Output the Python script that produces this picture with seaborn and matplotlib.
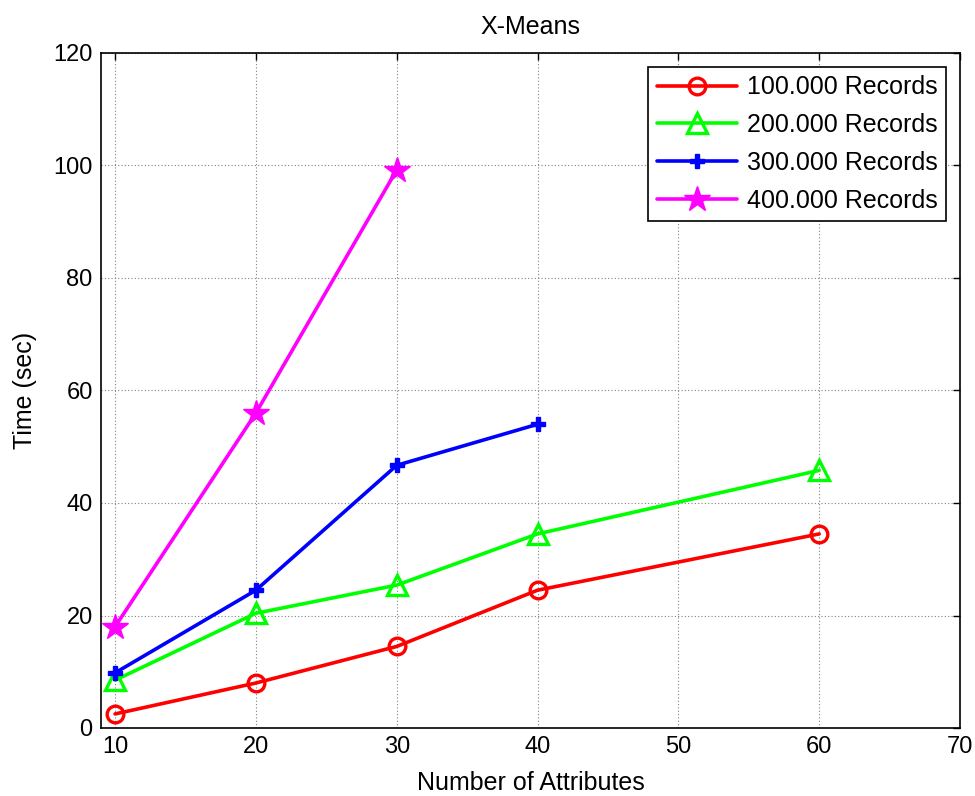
import matplotlib
matplotlib.use("Agg")
import matplotlib.pyplot as plt
import seaborn as sns
import pandas as pd

# ---- data ----
attrs_100k = [10, 20, 30, 40, 60]
time_100k = [2.5, 8.0, 14.5, 24.5, 34.5]
attrs_200k = [10, 20, 30, 40, 60]
time_200k = [8.5, 20.4, 25.4, 34.5, 45.8]
attrs_300k = [10, 20, 30, 40]
time_300k = [9.8, 24.5, 46.7, 54.0]
attrs_400k = [10, 20, 30]
time_400k = [18.0, 56.0, 99.2]

series_labels = ["100.000 Records", "200.000 Records", "300.000 Records", "400.000 Records"]
x_ticks = [10, 20, 30, 40, 50, 60, 70]
y_ticks = [0, 20, 40, 60, 80, 100, 120]

sns.set_theme(style="white")
plt.rcParams['font.family'] = ['Liberation Sans', 'DejaVu Sans']
plt.rcParams['text.color'] = 'black'
plt.rcParams['axes.labelcolor'] = 'black'
plt.rcParams['xtick.color'] = 'black'
plt.rcParams['ytick.color'] = 'black'

fig = plt.figure(figsize=(9.75, 7.96), dpi=100)
ax = fig.add_axes([101/975, 1-728/796, (960-101)/975, (728-53)/796])

styles = [
    dict(color="#ff0000", marker="o", mfc="none", mec="#ff0000", ms=12, mew=2.4),
    dict(color="#00ff00", marker="^", mfc="none", mec="#00ff00", ms=14, mew=2.4),
    dict(color="#0000ff", marker="P", mfc="#0000ff", mec="#0000ff", ms=10, mew=1),
    dict(color="#ff00ff", marker="*", mfc="#ff00ff", mec="#ff00ff", ms=19, mew=1),
]
xs = [attrs_100k, attrs_200k, attrs_300k, attrs_400k]
ys = [time_100k, time_200k, time_300k, time_400k]

for x, y, lab, st in zip(xs, ys, series_labels, styles):
    df = pd.DataFrame({"attrs": x, "time": y})
    sns.lineplot(data=df, x="attrs", y="time", ax=ax, label=lab, lw=2.6,
                 color=st["color"], marker=st["marker"], markerfacecolor=st["mfc"],
                 markeredgecolor=st["mec"], markersize=st["ms"], markeredgewidth=st["mew"])

ax.set_xlim(9, 70)
ax.set_ylim(0, 120)
ax.set_xticks(x_ticks)
ax.set_yticks(y_ticks)
ax.grid(True, color="#808080", linestyle=(0, (1, 2)), linewidth=0.8)
ax.tick_params(direction="in", top=True, right=True, length=5, width=1, labelsize=17,
               color="black", labelcolor="black", pad=6)
for s in ax.spines.values():
    s.set_color("black")
    s.set_linewidth(1.2)
    s.set_visible(True)

ax.set_xlabel("Number of Attributes", fontsize=18, labelpad=9, color="black")
ax.set_ylabel("Time (sec)", fontsize=18, labelpad=12, color="black")
ax.set_title("X-Means", fontsize=18, pad=14, color="black")

leg = ax.legend(loc="upper right", fontsize=18, frameon=True, fancybox=False,
                edgecolor="black", framealpha=1, borderaxespad=0.55, handlelength=3.2,
                handletextpad=0.4, labelspacing=0.55, borderpad=0.35)
leg.get_frame().set_linewidth(1.2)

fig.savefig("out.png", dpi=100)
